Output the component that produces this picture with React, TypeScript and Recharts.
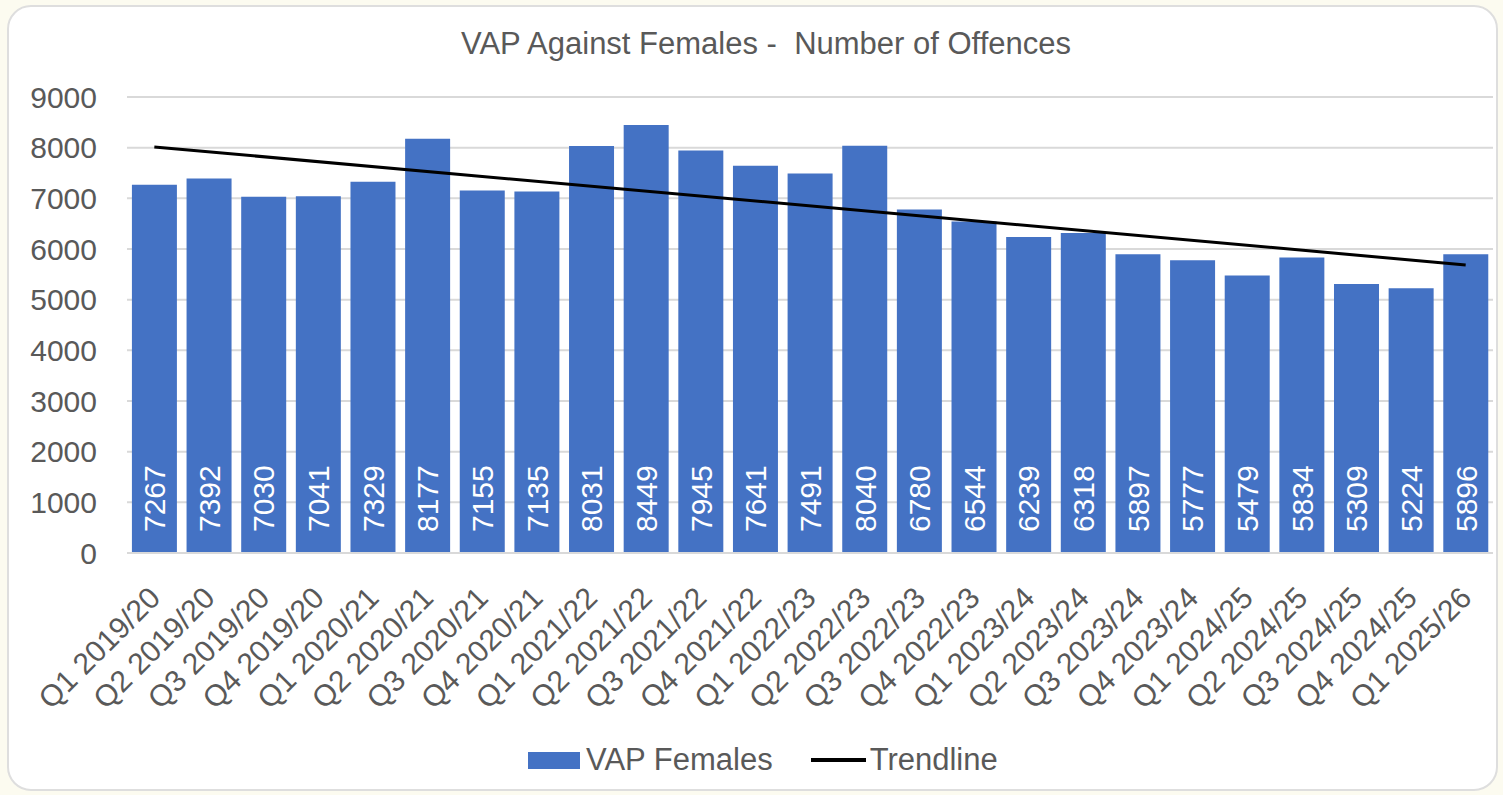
import { BarChart, Bar, Line, XAxis, YAxis, CartesianGrid, Legend, LabelList } from 'recharts';

const quarters = [
  'Q1 2019/20', 'Q2 2019/20', 'Q3 2019/20', 'Q4 2019/20',
  'Q1 2020/21', 'Q2 2020/21', 'Q3 2020/21', 'Q4 2020/21',
  'Q1 2021/22', 'Q2 2021/22', 'Q3 2021/22', 'Q4 2021/22',
  'Q1 2022/23', 'Q2 2022/23', 'Q3 2022/23', 'Q4 2022/23',
  'Q1 2023/24', 'Q2 2023/24', 'Q3 2023/24', 'Q4 2023/24',
  'Q1 2024/25', 'Q2 2024/25', 'Q3 2024/25', 'Q4 2024/25',
  'Q1 2025/26',
];

const offences = [
  7267, 7392, 7030, 7041,
  7329, 8177, 7155, 7135,
  8031, 8449, 7945, 7641,
  7491, 8040, 6780, 6544,
  6239, 6318, 5897, 5777,
  5479, 5834, 5309, 5224,
  5896,
];

// trendline end points (straight line between them)
const trendStart = 8015;
const trendEnd = 5685;

const yTicks = [0, 1000, 2000, 3000, 4000, 5000, 6000, 7000, 8000, 9000];

const data = quarters.map((q, i) => ({
  name: q,
  value: offences[i],
  trend: i === 0 ? trendStart : i === quarters.length - 1 ? trendEnd : null,
}));

const FONT = '"Liberation Sans", Arial, sans-serif';
const GREY = '#595959';
const BLUE = '#4472c4';

function QuarterTick(props: any) {
  const { x, payload } = props;
  return (
    <g transform={`translate(${x},592) rotate(-45)`}>
      <text x={0} y={0} dy="0.36em" textAnchor="end" fill={GREY} fontSize={30} fontFamily={FONT}>
        {payload.value}
      </text>
    </g>
  );
}

function ValueLabel(props: any) {
  const { x, y, width, height, value } = props;
  const cx = x + width / 2;
  const base = y + height - 21;
  return (
    <text
      x={cx}
      y={base}
      dy="0.36em"
      transform={`rotate(-90, ${cx}, ${base})`}
      textAnchor="start"
      fill="#ffffff"
      fontSize={30}
      fontFamily={FONT}
    >
      {value}
    </text>
  );
}

function ChartLegend() {
  return (
    <div style={{ display: 'flex', alignItems: 'center', paddingLeft: 528, height: 50, fontFamily: FONT, fontSize: 31, color: GREY }}>
      <span style={{ width: 52, height: 17, background: BLUE, display: 'inline-block' }} />
      <span style={{ marginLeft: 6 }}>VAP Females</span>
      <span style={{ width: 55, height: 4, background: '#000', display: 'inline-block', marginLeft: 38 }} />
      <span style={{ marginLeft: 4 }}>Trendline</span>
    </div>
  );
}

export default function App() {
  return (
    <div style={{ position: 'relative', width: 1503, height: 795, background: '#fcfbf0', overflow: 'hidden' }}>
      <style>{'body{margin:0}'}</style>
      <div
        style={{
          position: 'absolute', left: 7, top: 5, width: 1491, height: 786,
          background: '#fff', border: '2px solid #dedede', borderRadius: 24, boxSizing: 'border-box',
        }}
      />
      <div
        style={{
          position: 'absolute', top: 28, left: 0, width: 1532, textAlign: 'center',
          fontFamily: FONT, fontSize: 31, lineHeight: '31px', color: GREY,
        }}
      >
        VAP Against Females - &nbsp;Number of Offences
      </div>
      <div style={{ position: 'absolute', left: 0, top: 0 }}>
        <BarChart
          width={1503}
          height={795}
          data={data}
          margin={{ top: 97, right: 10, left: 0, bottom: 10 }}
          barCategoryGap="9%"
        >
          <CartesianGrid vertical={false} stroke="#d9d9d9" strokeWidth={2} />
          <XAxis
            dataKey="name"
            interval={0}
            height={182}
            tick={<QuarterTick />}
            tickLine={false}
            axisLine={{ stroke: '#d9d9d9', strokeWidth: 2 }}
          />
          <YAxis
            width={127}
            domain={[0, 9000]}
            ticks={yTicks}
            axisLine={false}
            tickLine={false}
            tickSize={0}
            tickMargin={30}
            tick={{ fill: GREY, fontSize: 30, fontFamily: FONT }}
          />
          <Legend verticalAlign="bottom" height={50} wrapperStyle={{ left: 0, width: 1503 }} content={<ChartLegend />} />
          <Bar dataKey="value" name="VAP Females" fill={BLUE} isAnimationActive={false}>
            <LabelList dataKey="value" content={<ValueLabel />} />
          </Bar>
          <Line
            dataKey="trend"
            name="Trendline"
            stroke="#000"
            strokeWidth={3}
            dot={false}
            connectNulls
            isAnimationActive={false}
          />
        </BarChart>
      </div>
    </div>
  );
}
